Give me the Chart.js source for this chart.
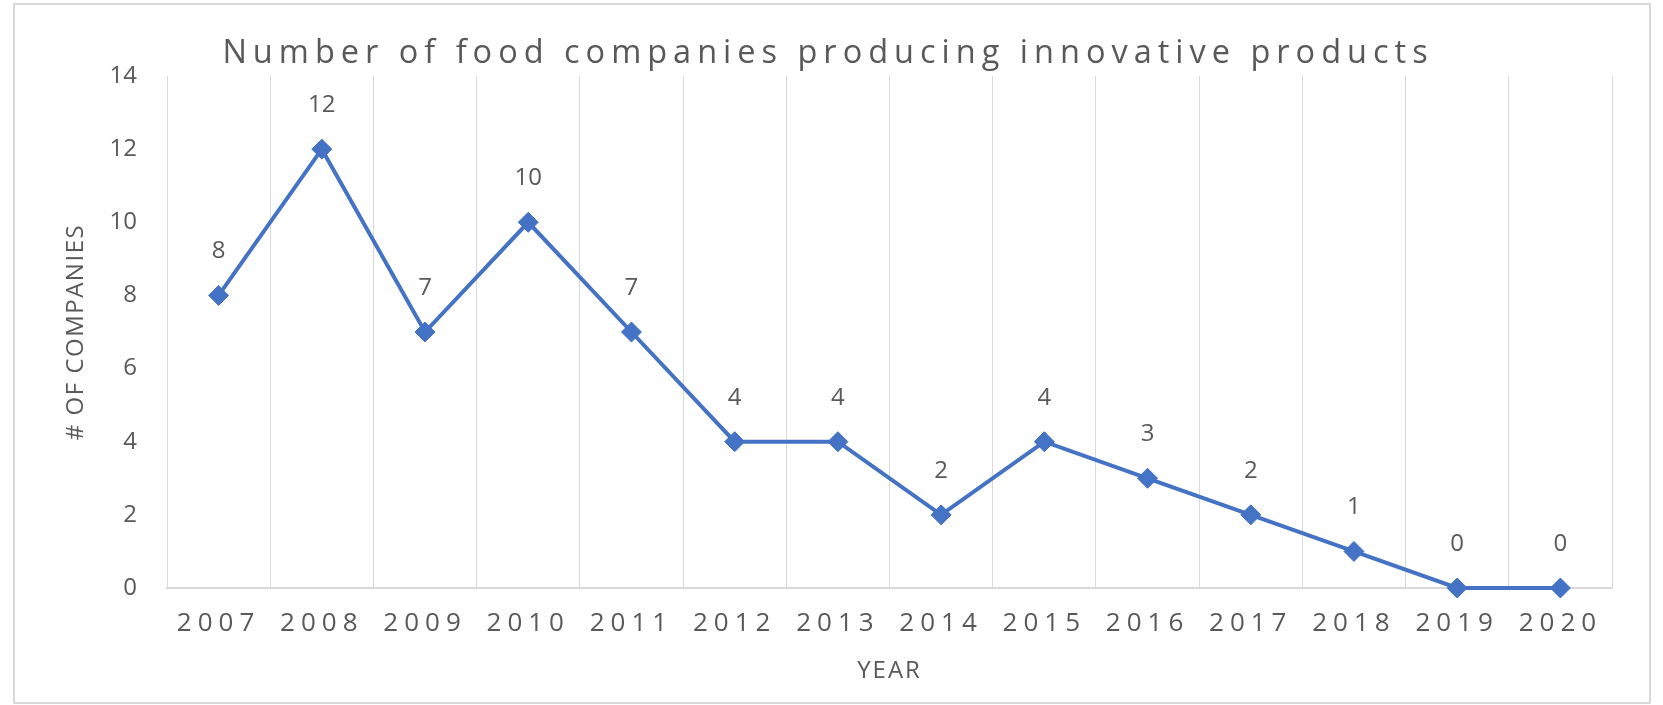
<!DOCTYPE html>
<html>
<head>
<meta charset="utf-8">
<script src="https://cdn.jsdelivr.net/npm/chart.js@4.4.1/dist/chart.umd.min.js"></script>
<style>
    html, body { margin: 0; padding: 0; background: #ffffff; overflow: hidden; }
    .frame {
        position: absolute;
        left: 13px;
        top: 3px;
        width: 1638px;
        height: 701px;
        border: 2px solid #d9d9d9;
        box-sizing: border-box;
    }
    #companiesChart {
        position: absolute;
        left: 0;
        top: 0;
    }
</style>
</head>
<body>
<div class="frame"></div>
<canvas id="companiesChart" width="1663" height="705"></canvas>
<script>
(function () {
    'use strict';

    const years = ['2007', '2008', '2009', '2010', '2011', '2012', '2013',
        '2014', '2015', '2016', '2017', '2018', '2019', '2020'];
    const companies = [8, 12, 7, 10, 7, 4, 4, 2, 4, 3, 2, 1, 0, 0];
    const yTicks = [0, 2, 4, 6, 8, 10, 12, 14];

    const palette = {
        line: '#4472c4',
        text: '#595959',
        grid: '#d9d9d9'
    };

    const fontFamily = "'Open Sans', 'DejaVu Sans', Arial, sans-serif";
    Chart.defaults.font.family = fontFamily;
    Chart.defaults.color = palette.text;

    // the original (an Excel export) has spread-out lettering; canvas letterSpacing
    // is set per piece of text
    function withSpacing(ctx, spacing, draw) {
        const prev = ctx.letterSpacing;
        ctx.letterSpacing = spacing;
        draw();
        ctx.letterSpacing = prev;
    }

    class SpacedCategoryScale extends Chart.CategoryScale {
        drawLabels(area) {
            withSpacing(this.ctx, '6px', () => super.drawLabels(area));
        }
        drawTitle() {
            withSpacing(this.ctx, '2px', () => super.drawTitle());
        }
    }
    SpacedCategoryScale.id = 'spacedCategory';
    SpacedCategoryScale.defaults = Chart.CategoryScale.defaults;

    class SpacedLinearScale extends Chart.LinearScale {
        drawLabels(area) {
            withSpacing(this.ctx, '0px', () => super.drawLabels(area));
        }
        drawTitle() {
            withSpacing(this.ctx, '1.5px', () => super.drawTitle());
        }
    }
    SpacedLinearScale.id = 'spacedLinear';
    SpacedLinearScale.defaults = Chart.LinearScale.defaults;

    Chart.register(SpacedCategoryScale, SpacedLinearScale);

    // chart title is the only other text drawn before the datasets
    const titleSpacing = {
        id: 'titleSpacing',
        beforeDraw(chart) {
            chart.ctx.letterSpacing = '6px';
        },
        afterDraw(chart) {
            chart.ctx.letterSpacing = '0px';
        }
    };

    const pointLabels = {
        id: 'pointLabels',
        afterDatasetsDraw(chart) {
            const ctx = chart.ctx;
            const meta = chart.getDatasetMeta(0);
            ctx.save();
            ctx.letterSpacing = '0px';
            ctx.font = '24px ' + fontFamily;
            ctx.fillStyle = palette.text;
            ctx.textAlign = 'center';
            ctx.textBaseline = 'middle';
            meta.data.forEach((pt, i) => {
                ctx.fillText(String(companies[i]), pt.x, pt.y - 44);
            });
            ctx.restore();
        }
    };

    new Chart(document.getElementById('companiesChart'), {
        type: 'line',
        data: {
            labels: years,
            datasets: [{
                label: '# of companies',
                data: companies,
                borderColor: palette.line,
                backgroundColor: palette.line,
                borderWidth: 4,
                pointStyle: 'rectRot',
                pointRadius: 10,
                pointBorderWidth: 1,
                tension: 0,
                clip: false
            }]
        },
        options: {
            responsive: false,
            animation: false,
            layout: {
                padding: { top: 34, right: 51, bottom: 19, left: 44 }
            },
            plugins: {
                legend: { display: false },
                tooltip: { enabled: false },
                title: {
                    display: true,
                    text: 'Number of food companies producing innovative products',
                    color: palette.text,
                    font: { size: 32.5, weight: 'normal' },
                    padding: { top: 0, bottom: 3 }
                }
            },
            scales: {
                x: {
                    type: 'spacedCategory',
                    offset: true,
                    // fit() reserves the tick padding twice, so pin the band height
                    afterFit(scale) {
                        scale.height = 98;
                    },
                    grid: {
                        offset: true,
                        color: palette.grid,
                        lineWidth: 1,
                        drawTicks: false
                    },
                    border: { display: true, color: palette.grid, width: 2 },
                    ticks: {
                        padding: 20,
                        color: palette.text,
                        font: { size: 26 },
                        maxRotation: 0,
                        autoSkip: false
                    },
                    title: {
                        display: true,
                        text: 'YEAR',
                        color: palette.text,
                        font: { size: 24 },
                        padding: { top: 17, bottom: 0 }
                    }
                },
                y: {
                    type: 'spacedLinear',
                    min: 0,
                    max: 14,
                    afterBuildTicks(scale) {
                        scale.ticks = yTicks.map((v) => ({ value: v }));
                    },
                    afterFit(scale) {
                        scale.width = 123;
                    },
                    grid: { display: false, drawTicks: false },
                    border: { display: false },
                    ticks: {
                        padding: 30,
                        color: palette.text,
                        font: { size: 24 }
                    },
                    title: {
                        display: true,
                        text: '# OF COMPANIES',
                        color: palette.text,
                        font: { size: 24 },
                        padding: { top: 18, bottom: 0 }
                    }
                }
            }
        },
        plugins: [titleSpacing, pointLabels]
    });
})();
</script>
</body>
</html>
